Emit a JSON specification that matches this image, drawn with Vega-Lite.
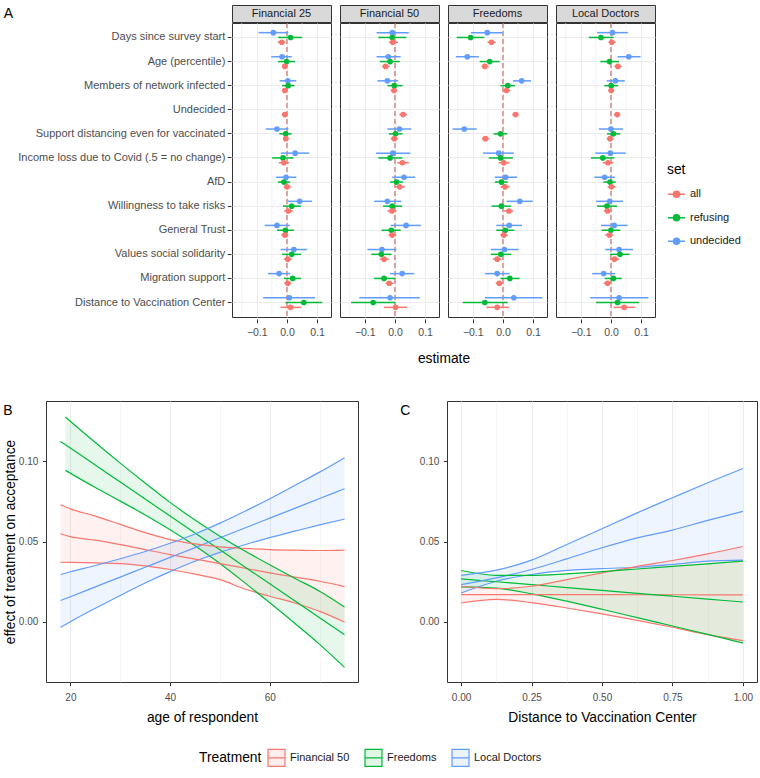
{
"$schema": "https://vega.github.io/schema/vega-lite/v6.json",
"padding": {"left": 2, "top": 4, "right": 0, "bottom": 0},
"config": {
  "font": "Liberation Sans",
  "view": {"stroke": "#333333", "strokeWidth": 1},
  "axis": {"domain": false, "tickColor": "#333333", "tickSize": 3.7, "labelColor": "#4D4D4D", "labelFontSize": 10, "titleFontSize": 13.8, "titleColor": "#000000", "titleFontWeight": "normal", "gridColor": "#EBEBEB", "gridWidth": 1, "labelPadding": 4.5, "labelFlush": false, "labelOverlap": false},
  "legend": {"labelFontSize": 11, "labelColor": "#1A1A1A", "titleFontSize": 13.8, "titleColor": "#000000", "titleFontWeight": "normal"},
  "title": {"fontSize": 14, "fontWeight": "normal", "anchor": "start", "frame": "bounds", "color": "#000000"}
},
"resolve": {"scale": {"color": "independent"}, "legend": {"color": "independent"}},
"spacing": 34,
"vconcat": [
{
  "title": {"text": "A", "dx": -14, "offset": -16},
  "spacing": -30,
  "resolve": {"scale": {"color": "independent"}, "legend": {"color": "independent"}},
  "hconcat": [
  {"width": 1, "height": 1, "data": {"values": []}, "mark": "point", "view": {"stroke": null}},
  {
  "spacing": -4,
  "vconcat": [
  {
    "data": {"values": [{"p": "Financial 25"}, {"p": "Financial 50"}, {"p": "Freedoms"}, {"p": "Local Doctors"}]},
    "facet": {"column": {"field": "p", "type": "nominal", "title": null, "sort": ["Financial 25", "Financial 50", "Freedoms", "Local Doctors"], "header": {"labels": false}}},
    "spacing": 7,
    "spec": {
      "width": 99, "height": 17,
      "view": {"fill": "#D9D9D9", "stroke": "#333333"},
      "mark": {"type": "text", "fontSize": 11, "color": "#1A1A1A"},
      "encoding": {
        "text": {"field": "p"},
        "y": {"datum": "Income loss due to Covid (.5 = no change)", "type": "nominal", "axis": {"title": null, "labelOpacity": 0, "tickOpacity": 0, "grid": false, "labelFontSize": 11, "labelLimit": 400, "labelPadding": 2.5}}
      }
    }
  },
  {
    "data": {"values": [
{"p":"Financial 25","v":"Days since survey start","s":"undecided","e":-0.045,"l":-0.094,"h":0.004},
{"p":"Financial 25","v":"Days since survey start","s":"refusing","e":0.012,"l":-0.029,"h":0.05},
{"p":"Financial 25","v":"Days since survey start","s":"all","e":-0.017,"l":-0.031,"h":-0.006},
{"p":"Financial 25","v":"Age (percentile)","s":"undecided","e":-0.016,"l":-0.052,"h":0.016},
{"p":"Financial 25","v":"Age (percentile)","s":"refusing","e":-0.001,"l":-0.03,"h":0.027},
{"p":"Financial 25","v":"Age (percentile)","s":"all","e":-0.007,"l":-0.016,"h":0.003},
{"p":"Financial 25","v":"Members of network infected","s":"undecided","e":0.003,"l":-0.024,"h":0.031},
{"p":"Financial 25","v":"Members of network infected","s":"refusing","e":0.004,"l":-0.016,"h":0.025},
{"p":"Financial 25","v":"Members of network infected","s":"all","e":-0.007,"l":-0.015,"h":0.002},
{"p":"Financial 25","v":"Undecided","s":"all","e":-0.007,"l":-0.015,"h":0.001},
{"p":"Financial 25","v":"Support distancing even for vaccinated","s":"undecided","e":-0.033,"l":-0.071,"h":0.005},
{"p":"Financial 25","v":"Support distancing even for vaccinated","s":"refusing","e":-0.004,"l":-0.025,"h":0.016},
{"p":"Financial 25","v":"Support distancing even for vaccinated","s":"all","e":-0.004,"l":-0.013,"h":0.007},
{"p":"Financial 25","v":"Income loss due to Covid (.5 = no change)","s":"undecided","e":0.027,"l":-0.02,"h":0.074},
{"p":"Financial 25","v":"Income loss due to Covid (.5 = no change)","s":"refusing","e":-0.013,"l":-0.049,"h":0.022},
{"p":"Financial 25","v":"Income loss due to Covid (.5 = no change)","s":"all","e":-0.01,"l":-0.027,"h":0.007},
{"p":"Financial 25","v":"AfD","s":"undecided","e":-0.003,"l":-0.036,"h":0.031},
{"p":"Financial 25","v":"AfD","s":"refusing","e":-0.01,"l":-0.03,"h":0.011},
{"p":"Financial 25","v":"AfD","s":"all","e":0.0,"l":-0.011,"h":0.014},
{"p":"Financial 25","v":"Willingness to take risks","s":"undecided","e":0.042,"l":0.002,"h":0.083},
{"p":"Financial 25","v":"Willingness to take risks","s":"refusing","e":0.016,"l":-0.013,"h":0.047},
{"p":"Financial 25","v":"Willingness to take risks","s":"all","e":0.005,"l":-0.009,"h":0.019},
{"p":"Financial 25","v":"General Trust","s":"undecided","e":-0.033,"l":-0.074,"h":0.01},
{"p":"Financial 25","v":"General Trust","s":"refusing","e":-0.005,"l":-0.033,"h":0.023},
{"p":"Financial 25","v":"General Trust","s":"all","e":-0.007,"l":-0.019,"h":0.005},
{"p":"Financial 25","v":"Values social solidarity","s":"undecided","e":0.023,"l":-0.021,"h":0.067},
{"p":"Financial 25","v":"Values social solidarity","s":"refusing","e":0.016,"l":-0.016,"h":0.047},
{"p":"Financial 25","v":"Values social solidarity","s":"all","e":0.003,"l":-0.01,"h":0.016},
{"p":"Financial 25","v":"Migration support","s":"undecided","e":-0.026,"l":-0.063,"h":0.011},
{"p":"Financial 25","v":"Migration support","s":"refusing","e":0.019,"l":-0.01,"h":0.047},
{"p":"Financial 25","v":"Migration support","s":"all","e":0.003,"l":-0.009,"h":0.014},
{"p":"Financial 25","v":"Distance to Vaccination Center","s":"undecided","e":0.008,"l":-0.079,"h":0.093},
{"p":"Financial 25","v":"Distance to Vaccination Center","s":"refusing","e":0.056,"l":-0.005,"h":0.117},
{"p":"Financial 25","v":"Distance to Vaccination Center","s":"all","e":0.012,"l":-0.021,"h":0.047},
{"p":"Financial 50","v":"Days since survey start","s":"undecided","e":-0.009,"l":-0.061,"h":0.046},
{"p":"Financial 50","v":"Days since survey start","s":"refusing","e":-0.009,"l":-0.055,"h":0.038},
{"p":"Financial 50","v":"Days since survey start","s":"all","e":-0.007,"l":-0.02,"h":0.01},
{"p":"Financial 50","v":"Age (percentile)","s":"undecided","e":-0.022,"l":-0.061,"h":0.019},
{"p":"Financial 50","v":"Age (percentile)","s":"refusing","e":-0.016,"l":-0.05,"h":0.016},
{"p":"Financial 50","v":"Age (percentile)","s":"all","e":-0.031,"l":-0.043,"h":-0.017},
{"p":"Financial 50","v":"Members of network infected","s":"undecided","e":-0.025,"l":-0.058,"h":0.011},
{"p":"Financial 50","v":"Members of network infected","s":"refusing","e":-0.002,"l":-0.025,"h":0.025},
{"p":"Financial 50","v":"Members of network infected","s":"all","e":-0.003,"l":-0.014,"h":0.008},
{"p":"Financial 50","v":"Undecided","s":"all","e":0.027,"l":0.015,"h":0.04},
{"p":"Financial 50","v":"Support distancing even for vaccinated","s":"undecided","e":0.015,"l":-0.025,"h":0.054},
{"p":"Financial 50","v":"Support distancing even for vaccinated","s":"refusing","e":0.002,"l":-0.02,"h":0.025},
{"p":"Financial 50","v":"Support distancing even for vaccinated","s":"all","e":-0.002,"l":-0.014,"h":0.01},
{"p":"Financial 50","v":"Income loss due to Covid (.5 = no change)","s":"undecided","e":-0.007,"l":-0.063,"h":0.051},
{"p":"Financial 50","v":"Income loss due to Covid (.5 = no change)","s":"refusing","e":-0.016,"l":-0.055,"h":0.025},
{"p":"Financial 50","v":"Income loss due to Covid (.5 = no change)","s":"all","e":0.025,"l":0.008,"h":0.046},
{"p":"Financial 50","v":"AfD","s":"undecided","e":0.03,"l":-0.009,"h":0.067},
{"p":"Financial 50","v":"AfD","s":"refusing","e":0.005,"l":-0.016,"h":0.027},
{"p":"Financial 50","v":"AfD","s":"all","e":0.016,"l":0.0,"h":0.033},
{"p":"Financial 50","v":"Willingness to take risks","s":"undecided","e":-0.025,"l":-0.069,"h":0.021},
{"p":"Financial 50","v":"Willingness to take risks","s":"refusing","e":-0.009,"l":-0.039,"h":0.024},
{"p":"Financial 50","v":"Willingness to take risks","s":"all","e":-0.01,"l":-0.025,"h":0.005},
{"p":"Financial 50","v":"General Trust","s":"undecided","e":0.037,"l":-0.014,"h":0.086},
{"p":"Financial 50","v":"General Trust","s":"refusing","e":-0.012,"l":-0.044,"h":0.019},
{"p":"Financial 50","v":"General Trust","s":"all","e":-0.009,"l":-0.022,"h":0.004},
{"p":"Financial 50","v":"Values social solidarity","s":"undecided","e":-0.043,"l":-0.091,"h":0.005},
{"p":"Financial 50","v":"Values social solidarity","s":"refusing","e":-0.045,"l":-0.078,"h":-0.011},
{"p":"Financial 50","v":"Values social solidarity","s":"all","e":-0.036,"l":-0.05,"h":-0.02},
{"p":"Financial 50","v":"Migration support","s":"undecided","e":0.024,"l":-0.016,"h":0.064},
{"p":"Financial 50","v":"Migration support","s":"refusing","e":-0.036,"l":-0.069,"h":0.002},
{"p":"Financial 50","v":"Migration support","s":"all","e":-0.019,"l":-0.031,"h":-0.005},
{"p":"Financial 50","v":"Distance to Vaccination Center","s":"undecided","e":-0.016,"l":-0.118,"h":0.082},
{"p":"Financial 50","v":"Distance to Vaccination Center","s":"refusing","e":-0.072,"l":-0.145,"h":0.002},
{"p":"Financial 50","v":"Distance to Vaccination Center","s":"all","e":0.002,"l":-0.036,"h":0.04},
{"p":"Freedoms","v":"Days since survey start","s":"undecided","e":-0.052,"l":-0.106,"h":0.0},
{"p":"Freedoms","v":"Days since survey start","s":"refusing","e":-0.107,"l":-0.153,"h":-0.062},
{"p":"Freedoms","v":"Days since survey start","s":"all","e":-0.038,"l":-0.051,"h":-0.024},
{"p":"Freedoms","v":"Age (percentile)","s":"undecided","e":-0.118,"l":-0.156,"h":-0.08},
{"p":"Freedoms","v":"Age (percentile)","s":"refusing","e":-0.044,"l":-0.077,"h":-0.011},
{"p":"Freedoms","v":"Age (percentile)","s":"all","e":-0.06,"l":-0.071,"h":-0.047},
{"p":"Freedoms","v":"Members of network infected","s":"undecided","e":0.062,"l":0.033,"h":0.093},
{"p":"Freedoms","v":"Members of network infected","s":"refusing","e":0.016,"l":-0.008,"h":0.04},
{"p":"Freedoms","v":"Members of network infected","s":"all","e":0.012,"l":0.001,"h":0.024},
{"p":"Freedoms","v":"Undecided","s":"all","e":0.042,"l":0.031,"h":0.052},
{"p":"Freedoms","v":"Support distancing even for vaccinated","s":"undecided","e":-0.128,"l":-0.167,"h":-0.087},
{"p":"Freedoms","v":"Support distancing even for vaccinated","s":"refusing","e":-0.008,"l":-0.031,"h":0.014},
{"p":"Freedoms","v":"Support distancing even for vaccinated","s":"all","e":-0.058,"l":-0.07,"h":-0.045},
{"p":"Freedoms","v":"Income loss due to Covid (.5 = no change)","s":"undecided","e":-0.014,"l":-0.066,"h":0.036},
{"p":"Freedoms","v":"Income loss due to Covid (.5 = no change)","s":"refusing","e":-0.008,"l":-0.047,"h":0.033},
{"p":"Freedoms","v":"Income loss due to Covid (.5 = no change)","s":"all","e":0.003,"l":-0.014,"h":0.022},
{"p":"Freedoms","v":"AfD","s":"undecided","e":0.009,"l":-0.027,"h":0.047},
{"p":"Freedoms","v":"AfD","s":"refusing","e":-0.005,"l":-0.027,"h":0.016},
{"p":"Freedoms","v":"AfD","s":"all","e":0.007,"l":-0.008,"h":0.022},
{"p":"Freedoms","v":"Willingness to take risks","s":"undecided","e":0.056,"l":0.012,"h":0.099},
{"p":"Freedoms","v":"Willingness to take risks","s":"refusing","e":-0.005,"l":-0.038,"h":0.027},
{"p":"Freedoms","v":"Willingness to take risks","s":"all","e":0.02,"l":0.003,"h":0.034},
{"p":"Freedoms","v":"General Trust","s":"undecided","e":0.021,"l":-0.022,"h":0.063},
{"p":"Freedoms","v":"General Trust","s":"refusing","e":0.008,"l":-0.022,"h":0.038},
{"p":"Freedoms","v":"General Trust","s":"all","e":0.003,"l":-0.009,"h":0.016},
{"p":"Freedoms","v":"Values social solidarity","s":"undecided","e":0.005,"l":-0.04,"h":0.052},
{"p":"Freedoms","v":"Values social solidarity","s":"refusing","e":-0.007,"l":-0.04,"h":0.027},
{"p":"Freedoms","v":"Values social solidarity","s":"all","e":-0.019,"l":-0.033,"h":-0.005},
{"p":"Freedoms","v":"Migration support","s":"undecided","e":-0.019,"l":-0.06,"h":0.022},
{"p":"Freedoms","v":"Migration support","s":"refusing","e":0.023,"l":-0.008,"h":0.055},
{"p":"Freedoms","v":"Migration support","s":"all","e":-0.012,"l":-0.024,"h":0.0},
{"p":"Freedoms","v":"Distance to Vaccination Center","s":"undecided","e":0.036,"l":-0.06,"h":0.131},
{"p":"Freedoms","v":"Distance to Vaccination Center","s":"refusing","e":-0.06,"l":-0.133,"h":0.016},
{"p":"Freedoms","v":"Distance to Vaccination Center","s":"all","e":-0.019,"l":-0.055,"h":0.02},
{"p":"Local Doctors","v":"Days since survey start","s":"undecided","e":0.005,"l":-0.046,"h":0.056},
{"p":"Local Doctors","v":"Days since survey start","s":"refusing","e":-0.033,"l":-0.073,"h":0.009},
{"p":"Local Doctors","v":"Days since survey start","s":"all","e":0.003,"l":-0.008,"h":0.016},
{"p":"Local Doctors","v":"Age (percentile)","s":"undecided","e":0.059,"l":0.022,"h":0.098},
{"p":"Local Doctors","v":"Age (percentile)","s":"refusing","e":-0.005,"l":-0.035,"h":0.027},
{"p":"Local Doctors","v":"Age (percentile)","s":"all","e":0.023,"l":0.011,"h":0.036},
{"p":"Local Doctors","v":"Members of network infected","s":"undecided","e":0.015,"l":-0.014,"h":0.046},
{"p":"Local Doctors","v":"Members of network infected","s":"refusing","e":0.001,"l":-0.022,"h":0.024},
{"p":"Local Doctors","v":"Members of network infected","s":"all","e":0.001,"l":-0.009,"h":0.011},
{"p":"Local Doctors","v":"Undecided","s":"all","e":0.021,"l":0.01,"h":0.031},
{"p":"Local Doctors","v":"Support distancing even for vaccinated","s":"undecided","e":0.0,"l":-0.04,"h":0.04},
{"p":"Local Doctors","v":"Support distancing even for vaccinated","s":"refusing","e":0.008,"l":-0.013,"h":0.031},
{"p":"Local Doctors","v":"Support distancing even for vaccinated","s":"all","e":-0.003,"l":-0.014,"h":0.009},
{"p":"Local Doctors","v":"Income loss due to Covid (.5 = no change)","s":"undecided","e":-0.002,"l":-0.052,"h":0.049},
{"p":"Local Doctors","v":"Income loss due to Covid (.5 = no change)","s":"refusing","e":-0.027,"l":-0.066,"h":0.011},
{"p":"Local Doctors","v":"Income loss due to Covid (.5 = no change)","s":"all","e":-0.01,"l":-0.027,"h":0.008},
{"p":"Local Doctors","v":"AfD","s":"undecided","e":-0.021,"l":-0.055,"h":0.013},
{"p":"Local Doctors","v":"AfD","s":"refusing","e":-0.003,"l":-0.025,"h":0.016},
{"p":"Local Doctors","v":"AfD","s":"all","e":0.002,"l":-0.011,"h":0.016},
{"p":"Local Doctors","v":"Willingness to take risks","s":"undecided","e":-0.004,"l":-0.049,"h":0.04},
{"p":"Local Doctors","v":"Willingness to take risks","s":"refusing","e":-0.013,"l":-0.046,"h":0.02},
{"p":"Local Doctors","v":"Willingness to take risks","s":"all","e":-0.011,"l":-0.024,"h":0.002},
{"p":"Local Doctors","v":"General Trust","s":"undecided","e":0.011,"l":-0.033,"h":0.055},
{"p":"Local Doctors","v":"General Trust","s":"refusing","e":0.0,"l":-0.031,"h":0.031},
{"p":"Local Doctors","v":"General Trust","s":"all","e":-0.005,"l":-0.019,"h":0.008},
{"p":"Local Doctors","v":"Values social solidarity","s":"undecided","e":0.027,"l":-0.019,"h":0.073},
{"p":"Local Doctors","v":"Values social solidarity","s":"refusing","e":0.03,"l":-0.003,"h":0.062},
{"p":"Local Doctors","v":"Values social solidarity","s":"all","e":0.012,"l":-0.002,"h":0.027},
{"p":"Local Doctors","v":"Migration support","s":"undecided","e":-0.024,"l":-0.062,"h":0.014},
{"p":"Local Doctors","v":"Migration support","s":"refusing","e":0.008,"l":-0.021,"h":0.036},
{"p":"Local Doctors","v":"Migration support","s":"all","e":-0.011,"l":-0.024,"h":0.002},
{"p":"Local Doctors","v":"Distance to Vaccination Center","s":"undecided","e":0.027,"l":-0.069,"h":0.124},
{"p":"Local Doctors","v":"Distance to Vaccination Center","s":"refusing","e":0.022,"l":-0.049,"h":0.093},
{"p":"Local Doctors","v":"Distance to Vaccination Center","s":"all","e":0.044,"l":0.009,"h":0.08}
    ]},
    "facet": {"column": {"field": "p", "type": "nominal", "title": "estimate", "sort": ["Financial 25", "Financial 50", "Freedoms", "Local Doctors"], "header": {"labels": false, "titleOrient": "bottom", "titleFontSize": 13.8, "titleColor": "#000000", "titleFontWeight": "normal", "titlePadding": 4}}},
    "spacing": 7,
    "spec": {
      "width": 99, "height": 294,
      "layer": [
        {"transform": [{"aggregate": [{"op": "count", "as": "n"}], "groupby": ["p"]}],
         "mark": {"type": "rule", "color": "#EBEBEB", "strokeWidth": 0.6}, "encoding": {"x": {"datum": -0.15, "type": "quantitative"}}},
        {"transform": [{"aggregate": [{"op": "count", "as": "n"}], "groupby": ["p"]}],
         "mark": {"type": "rule", "color": "#EBEBEB", "strokeWidth": 0.6}, "encoding": {"x": {"datum": -0.05, "type": "quantitative"}}},
        {"transform": [{"aggregate": [{"op": "count", "as": "n"}], "groupby": ["p"]}],
         "mark": {"type": "rule", "color": "#EBEBEB", "strokeWidth": 0.6}, "encoding": {"x": {"datum": 0.05, "type": "quantitative"}}},
        {"transform": [{"aggregate": [{"op": "count", "as": "n"}], "groupby": ["p"]}],
         "mark": {"type": "rule", "strokeDash": [5, 3], "color": "#B0413E", "opacity": 0.8, "strokeWidth": 1.1},
         "encoding": {"x": {"datum": 0, "type": "quantitative"}}},
        {"mark": {"type": "rule", "strokeWidth": 1.5},
         "encoding": {
           "y": {"field": "v", "type": "nominal", "sort": ["Days since survey start", "Age (percentile)", "Members of network infected", "Undecided", "Support distancing even for vaccinated", "Income loss due to Covid (.5 = no change)", "AfD", "Willingness to take risks", "General Trust", "Values social solidarity", "Migration support", "Distance to Vaccination Center"], "scale": {"type": "band", "paddingInner": 0, "paddingOuter": 0.1}, "axis": {"title": null, "labelFontSize": 11, "labelLimit": 400, "labelPadding": 2.5, "grid": true, "bandPosition": 0.5}},
           "yOffset": {"field": "s", "type": "nominal", "sort": ["undecided", "refusing", "all"], "scale": {"paddingInner": 0, "paddingOuter": 1.5}},
           "x": {"field": "l", "type": "quantitative", "scale": {"domain": [-0.182, 0.146], "nice": false, "zero": false},
             "axis": {"title": null, "values": [-0.1, 0, 0.1], "format": ".1f", "labelFontSize": 10.5, "grid": true}},
           "x2": {"field": "h"},
           "color": {"field": "s", "type": "nominal", "scale": {"domain": ["all", "refusing", "undecided"], "range": ["#F8766D", "#00BA38", "#619CFF"]},
             "legend": {"title": "set", "orient": "none", "legendX": 435, "legendY": 158, "symbolType": "M-1,0H1M-0.36,0A0.36,0.36,0,1,0,0.36,0A0.36,0.36,0,1,0,-0.36,0Z", "symbolSize": 289, "symbolStrokeWidth": 1.5, "rowPadding": 7.5, "titlePadding": 8,
               "encode": {"symbols": {"update": {"stroke": {"signal": "datum.value == 'all' ? '#F8766D' : datum.value == 'refusing' ? '#00BA38' : '#619CFF'"}, "fill": {"signal": "datum.value == 'all' ? '#F8766D' : datum.value == 'refusing' ? '#00BA38' : '#619CFF'"}, "opacity": {"value": 1}}}}}}
         }},
        {"mark": {"type": "circle", "size": 32, "opacity": 1},
         "encoding": {
           "y": {"field": "v", "type": "nominal", "sort": ["Days since survey start", "Age (percentile)", "Members of network infected", "Undecided", "Support distancing even for vaccinated", "Income loss due to Covid (.5 = no change)", "AfD", "Willingness to take risks", "General Trust", "Values social solidarity", "Migration support", "Distance to Vaccination Center"]},
           "yOffset": {"field": "s", "type": "nominal", "sort": ["undecided", "refusing", "all"]},
           "x": {"field": "e", "type": "quantitative"},
           "color": {"field": "s", "type": "nominal"}
         }}
      ]
    }
  }
  ]
  }
  ]
},
{
  "spacing": 40,
  "hconcat": [
  {
    "width": 312, "height": 281,
    "title": {"text": "B", "offset": -17},
    "data": {"values": [
{"t":"Financial 50","x":18,"lo":0.0371,"mid":0.0548,"hi":0.0728},
{"t":"Financial 50","x":20,"lo":0.0370,"mid":0.0530,"hi":0.0703},
{"t":"Financial 50","x":25,"lo":0.0367,"mid":0.0508,"hi":0.0658},
{"t":"Financial 50","x":30,"lo":0.0363,"mid":0.0481,"hi":0.0606},
{"t":"Financial 50","x":35,"lo":0.0348,"mid":0.0450,"hi":0.0555},
{"t":"Financial 50","x":40,"lo":0.0326,"mid":0.0419,"hi":0.0512},
{"t":"Financial 50","x":45,"lo":0.0297,"mid":0.0391,"hi":0.0485},
{"t":"Financial 50","x":50,"lo":0.0263,"mid":0.0363,"hi":0.0467},
{"t":"Financial 50","x":55,"lo":0.0205,"mid":0.0334,"hi":0.0457},
{"t":"Financial 50","x":60,"lo":0.0160,"mid":0.0305,"hi":0.0450},
{"t":"Financial 50","x":65,"lo":0.0118,"mid":0.0279,"hi":0.0446},
{"t":"Financial 50","x":70,"lo":0.0066,"mid":0.0253,"hi":0.0444},
{"t":"Financial 50","x":75,"lo":0.0000,"mid":0.0220,"hi":0.0446},
{"t":"Freedoms","x":18,"lo":null,"mid":0.1122,"hi":null},
{"t":"Freedoms","x":19,"lo":0.0942,"mid":0.1101,"hi":0.1274},
{"t":"Freedoms","x":25,"lo":0.0835,"mid":0.0975,"hi":0.1115},
{"t":"Freedoms","x":30,"lo":0.0751,"mid":0.0869,"hi":0.0987},
{"t":"Freedoms","x":35,"lo":0.0665,"mid":0.0764,"hi":0.0863},
{"t":"Freedoms","x":40,"lo":0.0573,"mid":0.0658,"hi":0.0743},
{"t":"Freedoms","x":45,"lo":0.0473,"mid":0.0553,"hi":0.0633},
{"t":"Freedoms","x":50,"lo":0.0363,"mid":0.0448,"hi":0.0533},
{"t":"Freedoms","x":55,"lo":0.0243,"mid":0.0342,"hi":0.0441},
{"t":"Freedoms","x":60,"lo":0.0119,"mid":0.0237,"hi":0.0355},
{"t":"Freedoms","x":65,"lo":-0.0008,"mid":0.0132,"hi":0.0272},
{"t":"Freedoms","x":70,"lo":-0.0139,"mid":0.0026,"hi":0.0191},
{"t":"Freedoms","x":75,"lo":-0.0282,"mid":-0.0079,"hi":0.0093},
{"t":"Local Doctors","x":18,"lo":-0.0033,"mid":0.0133,"hi":0.0295},
{"t":"Local Doctors","x":20,"lo":0.0002,"mid":0.0157,"hi":0.0312},
{"t":"Local Doctors","x":25,"lo":0.0085,"mid":0.0218,"hi":0.0351},
{"t":"Local Doctors","x":30,"lo":0.0165,"mid":0.0279,"hi":0.0393},
{"t":"Local Doctors","x":35,"lo":0.0242,"mid":0.0340,"hi":0.0438},
{"t":"Local Doctors","x":40,"lo":0.0313,"mid":0.0401,"hi":0.0489},
{"t":"Local Doctors","x":45,"lo":0.0377,"mid":0.0462,"hi":0.0547},
{"t":"Local Doctors","x":50,"lo":0.0432,"mid":0.0523,"hi":0.0614},
{"t":"Local Doctors","x":55,"lo":0.0480,"mid":0.0584,"hi":0.0688},
{"t":"Local Doctors","x":60,"lo":0.0524,"mid":0.0645,"hi":0.0766},
{"t":"Local Doctors","x":65,"lo":0.0564,"mid":0.0706,"hi":0.0848},
{"t":"Local Doctors","x":70,"lo":0.0603,"mid":0.0767,"hi":0.0931},
{"t":"Local Doctors","x":75,"lo":0.0639,"mid":0.0828,"hi":0.1021}
    ]},
    "encoding": {
      "x": {"field": "x", "type": "quantitative", "title": "age of respondent", "scale": {"domain": [15.1, 77.7], "nice": false, "zero": false},
        "axis": {"values": [20, 30, 40, 50, 60, 70], "labelPadding": 6.5, "titlePadding": 8, "labelExpr": "datum.value % 20 == 0 ? datum.label : ''",
          "tickOpacity": {"condition": {"test": "datum.value % 20 != 0", "value": 0}, "value": 1},
          "gridWidth": {"condition": {"test": "datum.value % 20 != 0", "value": 0.5}, "value": 1}}},
      "color": {"field": "t", "type": "nominal", "scale": {"domain": ["Financial 50", "Freedoms", "Local Doctors"], "range": ["#F8766D", "#00BA38", "#619CFF"]},
        "legend": {"title": "Treatment", "orient": "none", "legendX": 153, "legendY": 347, "direction": "horizontal", "titleOrient": "left", "symbolType": "M-1,-1H1V1H-1ZM-1,0H1", "symbolSize": 289, "symbolStrokeWidth": 1.2, "columnPadding": 12,
          "encode": {"symbols": {"update": {"stroke": {"signal": "datum.value == 'Financial 50' ? '#F8766D' : datum.value == 'Freedoms' ? '#00BA38' : '#619CFF'"}, "fill": {"signal": "datum.value == 'Financial 50' ? '#F8766D' : datum.value == 'Freedoms' ? '#00BA38' : '#619CFF'"}, "fillOpacity": {"value": 0.12}, "strokeOpacity": {"value": 1}, "opacity": {"value": 1}}}}}}
    },
    "layer": [
      {"mark": {"type": "rule", "strokeDash": [6, 4], "color": "#B0413E", "opacity": 0.7, "strokeWidth": 1.1},
       "encoding": {"y": {"datum": 0, "type": "quantitative"}, "color": {"value": "#B0413E"}}},
      {"mark": {"type": "area", "opacity": 1, "fillOpacity": 0.1, "interpolate": "monotone"},
       "encoding": {"y": {"field": "lo", "type": "quantitative", "title": "effect of treatment on acceptance", "scale": {"domain": [-0.0373, 0.1373], "nice": false, "zero": false},
         "axis": {"values": [-0.025, 0, 0.025, 0.05, 0.075, 0.1, 0.125], "titlePadding": 1,
           "labelExpr": "abs(round(datum.value * 100) % 5) < 0.5 ? format(datum.value, '.2f') : ''",
           "tickOpacity": {"condition": {"test": "abs(round(datum.value * 100) % 5) >= 0.5", "value": 0}, "value": 1},
           "gridWidth": {"condition": {"test": "abs(round(datum.value * 100) % 5) >= 0.5", "value": 0.5}, "value": 1}}},
         "y2": {"field": "hi"}}},
      {"mark": {"type": "line", "strokeWidth": 1.2, "interpolate": "monotone"}, "encoding": {"y": {"field": "lo", "type": "quantitative"}}},
      {"mark": {"type": "line", "strokeWidth": 1.2, "interpolate": "monotone"}, "encoding": {"y": {"field": "mid", "type": "quantitative"}}},
      {"mark": {"type": "line", "strokeWidth": 1.2, "interpolate": "monotone"}, "encoding": {"y": {"field": "hi", "type": "quantitative"}}}
    ]
  },
  {
    "width": 310, "height": 281,
    "title": {"text": "C", "offset": -17, "dx": -19},
    "data": {"values": [
{"t":"Financial 50","x":0,"lo":0.0118,"mid":0.0170,"hi":0.0222},
{"t":"Financial 50","x":0.125,"lo":0.0141,"mid":0.0170,"hi":0.0207},
{"t":"Financial 50","x":0.25,"lo":0.0120,"mid":0.0170,"hi":0.0222},
{"t":"Financial 50","x":0.375,"lo":0.0087,"mid":0.0170,"hi":0.0263},
{"t":"Financial 50","x":0.5,"lo":0.0050,"mid":0.0170,"hi":0.0305},
{"t":"Financial 50","x":0.625,"lo":0.0010,"mid":0.0169,"hi":0.0346},
{"t":"Financial 50","x":0.75,"lo":-0.0033,"mid":0.0169,"hi":0.0382},
{"t":"Financial 50","x":0.875,"lo":-0.0079,"mid":0.0168,"hi":0.0423},
{"t":"Financial 50","x":1,"lo":-0.0116,"mid":0.0168,"hi":0.0469},
{"t":"Freedoms","x":0,"lo":0.0218,"mid":0.0268,"hi":0.0320},
{"t":"Freedoms","x":0.125,"lo":0.0210,"mid":0.0250,"hi":0.0290},
{"t":"Freedoms","x":0.25,"lo":0.0175,"mid":0.0232,"hi":0.0289},
{"t":"Freedoms","x":0.375,"lo":0.0129,"mid":0.0214,"hi":0.0299},
{"t":"Freedoms","x":0.5,"lo":0.0079,"mid":0.0196,"hi":0.0313},
{"t":"Freedoms","x":0.625,"lo":0.0027,"mid":0.0178,"hi":0.0329},
{"t":"Freedoms","x":0.75,"lo":-0.0025,"mid":0.0160,"hi":0.0345},
{"t":"Freedoms","x":0.875,"lo":-0.0077,"mid":0.0142,"hi":0.0361},
{"t":"Freedoms","x":1,"lo":-0.0131,"mid":0.0124,"hi":0.0378},
{"t":"Local Doctors","x":0,"lo":0.0180,"mid":0.0232,"hi":0.0290},
{"t":"Local Doctors","x":0.125,"lo":0.0253,"mid":0.0274,"hi":0.0322},
{"t":"Local Doctors","x":0.25,"lo":0.0295,"mid":0.0326,"hi":0.0384},
{"t":"Local Doctors","x":0.375,"lo":0.0320,"mid":0.0392,"hi":0.0481},
{"t":"Local Doctors","x":0.5,"lo":0.0332,"mid":0.0461,"hi":0.0579},
{"t":"Local Doctors","x":0.625,"lo":0.0340,"mid":0.0523,"hi":0.0678},
{"t":"Local Doctors","x":0.75,"lo":0.0357,"mid":0.0571,"hi":0.0772},
{"t":"Local Doctors","x":0.875,"lo":0.0378,"mid":0.0631,"hi":0.0865},
{"t":"Local Doctors","x":1,"lo":0.0384,"mid":0.0687,"hi":0.0954}
    ]},
    "encoding": {
      "x": {"field": "x", "type": "quantitative", "title": "Distance to Vaccination Center", "scale": {"domain": [-0.05, 1.05], "nice": false, "zero": false},
        "axis": {"values": [0, 0.125, 0.25, 0.375, 0.5, 0.625, 0.75, 0.875, 1], "labelPadding": 6.5, "titlePadding": 8, "labelExpr": "round(datum.value * 8) % 2 == 0 ? format(datum.value, '.2f') : ''",
          "tickOpacity": {"condition": {"test": "round(datum.value * 8) % 2 != 0", "value": 0}, "value": 1},
          "gridWidth": {"condition": {"test": "round(datum.value * 8) % 2 != 0", "value": 0.5}, "value": 1}}},
      "color": {"field": "t", "type": "nominal", "scale": {"domain": ["Financial 50", "Freedoms", "Local Doctors"], "range": ["#F8766D", "#00BA38", "#619CFF"]},
        "legend": {"title": "Treatment", "orient": "none", "legendX": 153, "legendY": 347, "direction": "horizontal", "titleOrient": "left", "symbolType": "M-1,-1H1V1H-1ZM-1,0H1", "symbolSize": 289, "symbolStrokeWidth": 1.2, "columnPadding": 12,
          "encode": {"symbols": {"update": {"stroke": {"signal": "datum.value == 'Financial 50' ? '#F8766D' : datum.value == 'Freedoms' ? '#00BA38' : '#619CFF'"}, "fill": {"signal": "datum.value == 'Financial 50' ? '#F8766D' : datum.value == 'Freedoms' ? '#00BA38' : '#619CFF'"}, "fillOpacity": {"value": 0.12}, "strokeOpacity": {"value": 1}, "opacity": {"value": 1}}}}}}
    },
    "layer": [
      {"mark": {"type": "rule", "strokeDash": [6, 4], "color": "#B0413E", "opacity": 0.7, "strokeWidth": 1.1},
       "encoding": {"y": {"datum": 0, "type": "quantitative"}, "color": {"value": "#B0413E"}}},
      {"mark": {"type": "area", "opacity": 1, "fillOpacity": 0.1, "interpolate": "monotone"},
       "encoding": {"y": {"field": "lo", "type": "quantitative", "title": null, "scale": {"domain": [-0.0373, 0.1373], "nice": false, "zero": false},
         "axis": {"values": [-0.025, 0, 0.025, 0.05, 0.075, 0.1, 0.125],
           "labelExpr": "abs(round(datum.value * 100) % 5) < 0.5 ? format(datum.value, '.2f') : ''",
           "tickOpacity": {"condition": {"test": "abs(round(datum.value * 100) % 5) >= 0.5", "value": 0}, "value": 1},
           "gridWidth": {"condition": {"test": "abs(round(datum.value * 100) % 5) >= 0.5", "value": 0.5}, "value": 1}}},
         "y2": {"field": "hi"}}},
      {"mark": {"type": "line", "strokeWidth": 1.2, "interpolate": "monotone"}, "encoding": {"y": {"field": "lo", "type": "quantitative"}}},
      {"mark": {"type": "line", "strokeWidth": 1.2, "interpolate": "monotone"}, "encoding": {"y": {"field": "mid", "type": "quantitative"}}},
      {"mark": {"type": "line", "strokeWidth": 1.2, "interpolate": "monotone"}, "encoding": {"y": {"field": "hi", "type": "quantitative"}}}
    ]
  }
  ]
}
]
}
